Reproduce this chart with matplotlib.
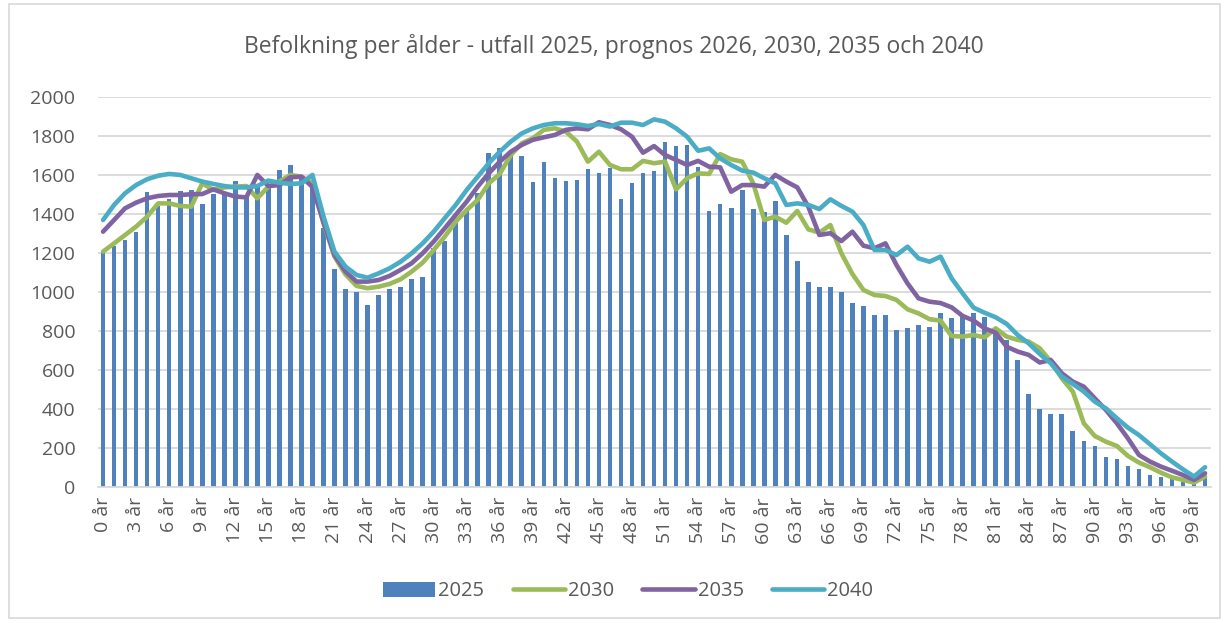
import matplotlib
matplotlib.use("Agg")
import matplotlib.pyplot as plt
from matplotlib.patches import Rectangle

ages = [f"{i} år" for i in range(101)]

y2025 = [1200, 1238, 1268, 1309, 1515, 1443, 1480, 1518, 1523, 1451,
         1504, 1501, 1569, 1490, 1542, 1533, 1627, 1653, 1593, 1560,
         1330, 1120, 1015, 1000, 933, 985, 1017, 1026, 1067, 1077,
         1226, 1263, 1354, 1422, 1508, 1716, 1740, 1699, 1699, 1568,
         1668, 1585, 1571, 1576, 1631, 1612, 1638, 1477, 1562, 1614,
         1622, 1769, 1752, 1756, 1644, 1415, 1453, 1432, 1525, 1429,
         1410, 1467, 1294, 1161, 1053, 1026, 1026, 1003, 945, 932,
         885, 885, 809, 815, 831, 822, 892, 870, 880, 892,
         875, 800, 756, 653, 477, 403, 376, 376, 289, 239,
         212, 156, 144, 111, 96, 63, 55, 46, 29, 21,
         46]

y2030 = [1209, 1251, 1294, 1337, 1388, 1456, 1456, 1443, 1439, 1559,
         1525, 1538, 1542, 1545, 1482, 1542, 1568, 1602, 1593, 1560,
         1355, 1183, 1092, 1033, 1021, 1029, 1043, 1067, 1106, 1152,
         1217, 1285, 1362, 1422, 1474, 1559, 1607, 1704, 1764, 1790,
         1833, 1841, 1824, 1773, 1670, 1721, 1653, 1631, 1631, 1674,
         1662, 1670, 1528, 1585, 1610, 1607, 1709, 1682, 1670, 1559,
         1371, 1388, 1357, 1417, 1323, 1306, 1345, 1200, 1094, 1012,
         986, 981, 961, 913, 892, 862, 855, 776, 773, 781,
         769, 815, 773, 756, 747, 713, 645, 559, 491, 328,
         263, 234, 212, 161, 127, 103, 75, 51, 38, 24,
         55]

y2035 = [1311, 1371, 1431, 1460, 1482, 1494, 1499, 1499, 1503, 1504,
         1528, 1508, 1491, 1487, 1602, 1545, 1550, 1590, 1593, 1540,
         1360, 1191, 1106, 1055, 1055, 1063, 1084, 1115, 1149, 1200,
         1260, 1328, 1397, 1465, 1542, 1610, 1670, 1721, 1756, 1782,
         1795, 1807, 1833, 1841, 1836, 1872, 1858, 1836, 1798, 1716,
         1750, 1704, 1679, 1653, 1674, 1644, 1641, 1516, 1550, 1550,
         1542, 1602, 1568, 1538, 1439, 1294, 1303, 1263, 1311, 1239,
         1226, 1251, 1140, 1046, 969, 952, 945, 923, 879, 855,
         815, 793, 721, 696, 679, 640, 653, 585, 542, 516,
         456, 397, 328, 251, 166, 132, 106, 85, 63, 38,
         72]

y2040 = [1371, 1448, 1508, 1550, 1580, 1598, 1607, 1602, 1585, 1568,
         1556, 1545, 1538, 1538, 1545, 1573, 1562, 1556, 1559, 1602,
         1390, 1209, 1132, 1089, 1075, 1097, 1123, 1157, 1200, 1251,
         1311, 1380, 1448, 1525, 1593, 1662, 1721, 1773, 1815, 1841,
         1858, 1867, 1867, 1862, 1853, 1863, 1850, 1870, 1870, 1858,
         1887, 1875, 1841, 1798, 1726, 1738, 1687, 1653, 1624, 1614,
         1585, 1559, 1448, 1456, 1448, 1427, 1477, 1443, 1414, 1345,
         1217, 1217, 1191, 1234, 1174, 1157, 1183, 1072, 995, 921,
         895, 872, 838, 781, 738, 684, 636, 568, 530, 491,
         439, 405, 354, 306, 268, 221, 174, 132, 92, 55,
         103]

series_names = ["2025", "2030", "2035", "2040"]
title = "Befolkning per ålder - utfall 2025, prognos 2026, 2030, 2035 och 2040"

plt.rcParams['font.family'] = ['Open Sans', 'DejaVu Sans']
txt = "#595959"

fig = plt.figure(figsize=(12.27, 6.23), dpi=100)
ax = fig.add_axes([0.0795, 0.2178, 0.9071, 0.626])

x = list(range(len(ages)))
bars = ax.bar(x, y2025, width=0.42, color="#4f81bd", label=series_names[0], zorder=2)
lines = []
for ys, col, nm, z in [(y2030, "#9bbb59", series_names[1], 3),
                       (y2035, "#8064a2", series_names[2], 4),
                       (y2040, "#4bacc6", series_names[3], 5)]:
    ln, = ax.plot(x, ys, color=col, lw=3.3, label=nm, zorder=z,
                  solid_joinstyle="round", solid_capstyle="round")
    lines.append(ln)

ax.set_xlim(-0.5, len(ages) - 0.5)
ax.set_ylim(0, 2000)
ax.set_yticks(range(0, 2001, 200))
ax.yaxis.grid(True, color="#d9d9d9", lw=1.3, zorder=0)
ax.set_axisbelow(True)
for s in ["top", "right", "left"]:
    ax.spines[s].set_visible(False)
ax.spines["bottom"].set_color("#d9d9d9")
ax.spines["bottom"].set_linewidth(1.3)
ax.set_xticks(x[::3])
ax.set_xticklabels(ages[::3], rotation=90, fontsize=14, color=txt)
ax.tick_params(axis="both", length=0, labelcolor=txt)
ax.tick_params(axis="y", labelsize=14, pad=16)
ax.tick_params(axis="x", pad=7)

fig.text(0.5, 0.925, title, ha="center", va="center", fontsize=16.5, color=txt)

leg = ax.legend([bars] + lines, series_names, loc="center",
                bbox_to_anchor=(0.512, 0.051), bbox_transform=fig.transFigure,
                ncol=4, frameon=False, fontsize=14.5, handlelength=2.6,
                handleheight=0.75, columnspacing=1.4, handletextpad=0.15)
for t in leg.get_texts():
    t.set_color(txt)

fig.patches.append(Rectangle((0.007, 0.008), 0.987, 0.985, transform=fig.transFigure,
                             fill=False, edgecolor="#d9d9d9", lw=1.2))

fig.savefig("out.png", dpi=100)
